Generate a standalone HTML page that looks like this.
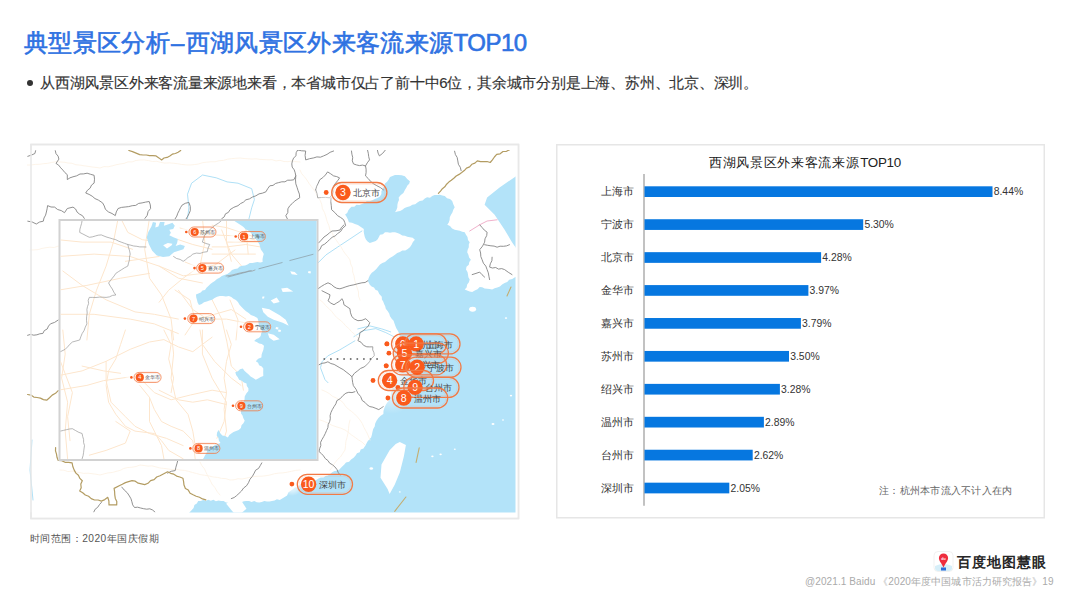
<!DOCTYPE html>
<html><head><meta charset="utf-8">
<style>
html,body{margin:0;padding:0;background:#fff;}
body{width:1080px;height:602px;position:relative;overflow:hidden;font-family:"Liberation Sans",sans-serif;}
.abs{position:absolute;white-space:nowrap;}
svg text{font-family:"Liberation Sans",sans-serif;}
#title{left:24px;top:26px;font-size:24px;letter-spacing:0.34px;color:#2f72e2;-webkit-text-stroke:0.6px #2f72e2;line-height:33px;}
#title .d{display:inline-block;width:15.7px;text-align:center;}
#title .l{letter-spacing:-0.5px;}
#bullet{left:40px;top:72.5px;font-size:15px;letter-spacing:-0.21px;-webkit-text-stroke:0.15px #333;color:#333;line-height:19px;}
#dot{left:27px;top:79.5px;width:6px;height:6px;border-radius:50%;background:#333;}
#foot1{left:30px;top:532px;font-size:10.2px;letter-spacing:0.45px;color:#555;line-height:14px;}
#foot2{left:805px;top:575px;font-size:10px;letter-spacing:0.1px;color:#aaa;line-height:14px;}
#logo{left:957px;top:552px;font-size:14.4px;letter-spacing:1px;color:#262626;font-weight:bold;line-height:20px;}
</style></head><body>
<div id="title" class="abs">典型景区分析<span class="d">–</span>西湖风景区外来客流来源<span class="l">TOP10</span></div>
<div id="dot" class="abs"></div>
<div id="bullet" class="abs">从西湖风景区外来客流量来源地来看，本省城市仅占了前十中6位，其余城市分别是上海、苏州、北京、深圳。</div>
<svg class="abs" style="left:0;top:0" width="1080" height="602" viewBox="0 0 1080 602">
<defs><clipPath id="cm"><rect x="27" y="150" width="488.5" height="362.5"/></clipPath><clipPath id="ci"><rect x="60.5" y="221" width="256" height="238"/></clipPath><radialGradient id="glow"><stop offset="0" stop-color="#fff" stop-opacity="0.9"/><stop offset="0.6" stop-color="#fff" stop-opacity="0.5"/><stop offset="1" stop-color="#fff" stop-opacity="0"/></radialGradient></defs>
<rect x="31" y="144.5" width="487.5" height="374" fill="#fff" stroke="#e8e8e8" stroke-width="1.5"/>
<g clip-path="url(#cm)">
<rect x="27" y="150" width="488.5" height="362.5" fill="#ffffff"/>
<path d="M395.0,175.0 L398.3,175.1 L401.7,175.2 L404.9,176.2 L407.2,178.9 L409.9,181.2 L409.2,183.7 L407.4,185.5 L406.3,187.8 L404.9,189.9 L403.4,192.9 L400.8,194.9 L398.7,197.4 L399.0,200.0 L397.9,202.4 L397.4,204.8 L397.3,207.5 L396.4,210.0 L395.0,212.3 L397.4,211.4 L400.1,211.1 L402.4,209.8 L404.6,208.0 L407.2,206.9 L410.0,206.2 L412.4,204.8 L415.2,204.2 L417.4,202.4 L419.8,200.9 L422.7,200.5 L424.8,198.6 L427.1,197.2 L430.0,197.7 L432.2,196.1 L434.6,195.1 L437.3,194.9 L439.9,194.7 L442.3,195.4 L444.8,196.1 L447.0,198.2 L450.0,199.0 L452.2,201.1 L453.3,204.2 L454.7,207.3 L453.3,209.7 L452.4,212.4 L451.0,214.8 L449.8,217.3 L449.6,220.0 L448.8,222.5 L447.3,224.8 L450.0,226.1 L452.1,228.4 L454.7,229.8 L457.2,230.3 L459.8,230.7 L462.2,231.7 L464.7,232.2 L466.0,234.7 L467.5,237.1 L468.0,239.9 L469.7,242.2 L468.8,244.6 L468.8,247.3 L467.7,249.7 L467.2,252.2 L468.4,254.7 L469.1,257.5 L470.9,259.7 L469.3,262.0 L468.8,264.8 L466.5,266.8 L466.0,269.6 L467.5,271.9 L468.0,274.6 L468.4,277.2 L469.7,279.6 L468.9,282.3 L467.2,284.6 L466.6,287.4 L464.7,289.5 L467.1,290.6 L469.6,291.6 L472.2,292.0 L474.8,290.5 L477.5,289.2 L479.7,287.1 L482.2,287.3 L484.6,288.4 L487.1,288.7 L489.6,289.1 L492.1,289.5 L494.6,288.2 L497.3,287.5 L499.9,286.5 L502.1,284.6 L504.6,283.1 L507.2,282.0 L509.2,279.7 L512.2,279.1 L514.6,277.6 L517.0,276.0 L516.2,278.5 L516.5,281.0 L517.3,283.5 L517.2,286.0 L516.7,288.5 L517.8,291.0 L517.1,293.5 L517.5,296.0 L517.6,298.5 L517.7,301.1 L516.6,303.6 L517.6,306.1 L517.4,308.6 L517.2,311.1 L516.4,313.6 L517.7,316.1 L517.1,318.6 L516.9,321.1 L516.4,323.6 L516.5,326.1 L516.4,328.6 L517.4,331.1 L517.1,333.6 L517.2,336.1 L516.4,338.6 L516.3,341.1 L517.6,343.6 L517.5,346.1 L517.4,348.7 L517.4,351.2 L517.0,353.7 L516.9,356.2 L517.4,358.7 L517.8,361.2 L517.1,363.7 L517.2,366.2 L516.9,368.7 L516.3,371.2 L516.7,373.7 L517.0,376.2 L516.8,378.7 L516.7,381.2 L517.7,383.7 L516.4,386.2 L516.6,388.7 L516.4,391.2 L516.5,393.7 L517.2,396.3 L517.2,398.8 L517.6,401.3 L516.8,403.8 L517.7,406.3 L517.7,408.8 L517.5,411.3 L517.5,413.8 L517.3,416.3 L517.7,418.8 L517.8,421.3 L517.6,423.8 L517.6,426.3 L517.2,428.8 L517.8,431.3 L516.4,433.8 L516.8,436.3 L517.6,438.8 L517.4,441.3 L517.2,443.9 L517.2,446.4 L517.6,448.9 L516.4,451.4 L516.2,453.9 L517.1,456.4 L517.0,458.9 L517.7,461.4 L517.6,463.9 L517.3,466.4 L517.4,468.9 L516.5,471.4 L517.5,473.9 L517.8,476.4 L516.3,478.9 L517.0,481.4 L517.6,483.9 L516.9,486.4 L517.8,488.9 L517.0,491.5 L516.2,494.0 L516.4,496.5 L516.7,499.0 L517.4,501.5 L517.2,504.0 L517.5,506.5 L516.6,509.0 L516.9,511.5 L517.0,514.0 L514.5,513.6 L512.0,514.3 L509.5,514.4 L507.0,513.5 L504.4,513.2 L501.9,513.4 L499.4,513.5 L496.9,513.5 L494.4,513.6 L491.9,514.4 L489.4,514.0 L486.9,514.2 L484.4,514.8 L481.8,514.8 L479.3,514.4 L476.8,514.4 L474.3,513.7 L471.8,513.3 L469.3,514.1 L466.8,513.3 L464.3,513.2 L461.7,513.3 L459.2,514.2 L456.7,514.4 L454.2,514.4 L451.7,514.5 L449.2,514.5 L446.7,513.8 L444.2,513.4 L441.7,513.5 L439.1,514.0 L436.6,513.8 L434.1,513.5 L431.6,514.7 L429.1,513.7 L426.6,513.3 L424.1,513.5 L421.6,513.6 L419.1,514.0 L416.5,514.5 L414.0,513.5 L411.5,514.3 L409.0,513.5 L406.5,513.2 L404.0,514.2 L401.5,514.2 L399.0,513.3 L396.5,513.6 L393.9,514.5 L391.4,514.6 L388.9,514.6 L386.4,513.4 L383.9,513.5 L381.4,514.6 L378.9,513.5 L376.4,513.2 L373.8,513.7 L371.3,514.2 L368.8,513.9 L366.3,514.6 L363.8,514.8 L361.3,513.2 L358.8,513.8 L356.3,514.0 L353.8,513.3 L351.2,514.1 L348.7,513.4 L346.2,513.5 L343.7,514.5 L341.2,514.4 L338.7,514.3 L336.2,514.4 L333.7,513.9 L331.2,514.4 L328.6,514.1 L326.1,514.6 L323.6,513.3 L321.1,514.2 L318.6,514.1 L316.1,513.9 L313.6,513.4 L311.1,514.1 L308.5,513.3 L306.0,514.0 L303.5,513.9 L301.0,514.0 L298.5,514.8 L296.0,514.1 L293.5,514.5 L291.0,514.8 L288.5,513.5 L285.9,514.5 L283.4,514.0 L280.9,513.6 L278.4,513.9 L275.9,514.3 L273.4,514.0 L270.9,513.9 L268.4,513.5 L265.9,514.6 L263.3,513.9 L260.8,514.4 L258.3,514.4 L255.8,513.6 L253.3,514.0 L250.8,513.9 L248.3,513.6 L245.8,513.3 L243.3,514.1 L240.7,513.8 L238.2,514.0 L235.7,514.0 L233.2,513.7 L230.7,514.1 L228.2,513.9 L225.7,514.0 L223.2,513.3 L220.6,513.7 L218.1,513.4 L215.6,513.3 L213.1,514.4 L210.6,513.9 L208.1,513.3 L205.6,513.5 L203.1,514.6 L200.6,514.6 L198.0,514.1 L195.5,514.7 L193.0,514.4 L190.5,514.7 L188.0,514.0 L189.9,512.0 L191.8,510.0 L193.6,507.9 L194.4,505.1 L196.8,503.5 L198.2,501.1 L200.8,501.0 L203.2,499.9 L205.9,500.7 L208.3,499.8 L210.8,500.8 L213.4,499.8 L215.9,501.2 L218.5,500.5 L221.1,500.9 L223.6,501.1 L226.0,502.4 L228.6,502.7 L231.4,502.1 L233.9,503.1 L236.4,503.7 L238.9,503.1 L241.4,502.2 L243.9,501.3 L246.5,501.1 L249.1,501.1 L251.6,502.0 L254.3,501.1 L256.7,502.2 L259.3,502.4 L261.8,502.0 L264.3,501.1 L266.9,501.4 L269.5,501.6 L272.0,501.1 L274.6,500.5 L276.9,499.2 L279.8,500.0 L282.2,498.6 L284.7,497.0 L287.1,495.4 L288.3,492.4 L290.7,490.7 L293.1,489.1 L295.1,487.3 L297.9,487.2 L299.9,485.3 L302.1,483.9 L304.7,483.3 L307.6,482.3 L310.7,482.2 L313.5,481.2 L316.3,479.9 L318.5,478.6 L320.7,477.4 L323.5,477.6 L325.6,476.1 L328.0,475.4 L330.2,474.1 L332.2,472.3 L334.5,471.1 L337.2,470.8 L339.4,469.4 L341.7,467.0 L344.1,464.8 L346.0,462.4 L349.1,461.7 L351.1,459.4 L353.6,457.8 L355.6,455.6 L357.0,453.3 L359.7,452.3 L360.7,449.5 L363.5,448.6 L364.9,446.3 L366.2,443.9 L367.5,441.5 L369.2,439.4 L371.1,437.4 L371.9,434.7 L372.5,431.8 L373.2,429.0 L374.7,426.4 L375.2,423.4 L376.5,420.8 L378.4,418.1 L380.7,415.8 L383.4,413.9 L383.5,410.8 L384.5,407.8 L385.7,405.0 L387.1,402.7 L388.9,400.8 L389.4,398.1 L390.8,395.8 L390.9,393.0 L391.9,390.5 L392.7,387.9 L392.9,385.2 L393.8,382.7 L393.9,380.0 L395.3,377.6 L395.6,374.9 L395.8,372.3 L397.6,370.0 L397.9,367.3 L397.1,364.7 L395.7,362.3 L395.3,359.6 L394.4,357.0 L394.2,354.2 L392.7,351.8 L393.4,348.9 L395.8,346.9 L396.5,344.0 L397.9,341.5 L398.8,339.0 L399.7,336.6 L399.2,333.4 L397.7,330.6 L396.3,328.3 L395.3,325.8 L394.4,323.3 L393.6,320.7 L391.7,318.7 L390.0,316.3 L389.2,313.4 L387.6,311.0 L385.8,308.7 L385.2,306.3 L384.1,304.0 L383.2,301.6 L381.9,299.4 L381.8,296.8 L379.3,294.1 L377.8,290.8 L375.4,289.8 L374.0,287.5 L371.6,286.6 L369.8,284.8 L367.8,280.8 L368.7,277.9 L369.9,275.2 L371.8,272.8 L374.2,271.1 L376.3,269.1 L378.1,266.8 L380.0,264.6 L382.3,263.0 L385.0,262.1 L387.3,259.9 L389.8,258.1 L392.5,256.5 L395.0,254.7 L397.2,253.0 L399.9,252.1 L402.3,250.6 L405.3,250.4 L407.8,249.1 L409.9,247.2 L411.6,244.7 L412.9,242.0 L414.9,239.7 L412.7,237.8 L409.9,237.2 L407.3,236.7 L404.9,235.8 L402.2,235.5 L399.9,234.0 L397.5,233.1 L395.0,232.2 L392.5,232.2 L390.0,232.7 L387.5,232.2 L385.0,232.2 L382.9,234.2 L380.0,234.7 L378.9,237.0 L377.7,239.3 L375.8,241.0 L372.8,242.1 L369.8,242.9 L367.6,241.4 L365.9,239.5 L364.8,237.0 L364.2,234.4 L363.7,231.7 L363.8,229.0 L360.9,226.9 L357.9,225.0 L354.9,224.1 L352.0,222.8 L348.9,222.3 L347.9,219.6 L346.7,217.0 L345.1,214.6 L347.2,213.0 L348.2,210.6 L349.7,208.6 L351.5,206.8 L354.3,206.8 L356.5,204.7 L359.3,204.9 L361.9,204.0 L364.4,203.0 L366.7,201.2 L369.8,201.3 L372.4,200.3 L374.8,198.9 L377.5,197.9 L379.9,196.5 L381.4,194.1 L381.4,191.1 L383.0,188.8 L384.0,186.2 L385.0,183.6 L387.1,181.7 L388.7,179.5 L390.0,177.0 Z" fill="#b3e3f9"/>
<path d="M516.0,176.2 L499.6,187.4 L487.1,197.4 L484.6,204.8 L494.6,214.8 L504.6,229.8 L512.0,242.2 L516.0,248.0 Z" fill="#b3e3f9"/>
<path d="M399.8,442.0 L405.9,445.1 L403.9,456.3 L399.8,472.6 L394.7,484.8 L389.6,494.0 L387.6,488.9 L380.5,477.7 L381.5,464.4 L389.6,450.2 L395.7,444.1 Z" fill="#fff"/>
<path d="M226.2,503.7 L231.3,499.8 L241.5,501.1 L246.5,508.8 L241.5,513.0 L233.8,513.0 Z" fill="#fff"/>
<path d="M187.5,218.7 L188.9,207.8 L187.5,194.2 L191.6,183.2 L202.5,175.0 L216.2,177.8 L227.1,181.9 L238.0,183.2 L251.7,188.7 L254.4,199.6 L251.7,207.8 L249.0,218.7 M318.0,262.9 L326.0,254.9 L337.9,246.9 L349.9,239.0 L361.9,231.0 M357.8,328.9 L369.8,325.9 L381.8,328.9 L390.7,331.9 M353.9,336.6 L363.8,330.6 L375.8,328.6 L385.8,332.6 L393.7,336.6 M354.9,340.8 L339.9,349.8 L327.9,355.8 L322.0,361.8 L320.5,367.8 L325.0,379.7 L328.0,382.7 M32.0,440.0 L30.0,470.0 L33.0,500.0" fill="none" stroke="#a6dcf5" stroke-width="0.9" stroke-linejoin="round" stroke-linecap="round" />
<path d="M27.0,165.0 L31.2,165.0 L35.3,164.4 L39.4,164.3 L43.5,163.7 L47.6,163.4 L51.7,162.4 L55.8,161.8 L60.0,162.0 L64.1,162.2 L68.0,163.0 L72.1,163.3 L75.9,164.8 L80.0,165.1 L84.0,165.8 L88.0,166.3 L92.0,167.0 L96.0,167.4 L100.0,168.0 L103.9,166.6 L108.1,166.8 L112.1,165.9 L116.0,164.8 L120.0,164.0 L124.0,163.4 L127.9,161.9 L132.1,161.9 L135.9,160.5 L140.0,160.0 L144.2,159.9 L148.4,160.6 L152.5,161.5 L156.7,161.3 L160.8,162.4 L164.9,163.1 L169.2,162.9 L173.3,163.2 L177.5,163.7 L181.6,164.4 L185.8,164.9 L190.0,165.0 L194.2,164.6 L198.4,164.0 L202.4,162.7 L206.6,162.2 L210.8,161.8 L215.0,161.8 L219.1,160.7 L223.3,160.4 L227.4,159.2 L231.6,158.6 L235.8,158.3 L240.0,158.0 L244.0,158.5 L248.0,158.8 L252.0,159.0 L256.0,158.8 L260.0,159.4 L264.0,159.6 L268.0,159.8 L272.0,159.7 L276.0,160.9 L280.0,160.3 L284.0,161.5 L288.0,161.7 L292.0,160.9 L296.0,161.7 L300.0,162.0 M30.0,250.0 L34.0,249.9 L38.1,249.6 L42.0,248.4 L46.0,247.7 L50.0,247.2 L54.1,247.5 L58.0,246.2 L62.0,246.1 L65.9,245.1 L70.0,245.0 L74.0,244.5 L78.1,244.5 L81.9,243.1 L86.0,243.4 L90.0,242.5 L94.1,242.5 L98.0,241.7 L102.0,240.7 L106.1,241.0 L110.0,240.0 L114.0,239.5 L117.9,238.4 L121.9,237.9 L126.0,238.0 L130.0,237.4 L134.0,236.8 L137.9,236.1 L142.0,235.8 L146.0,235.3 L150.0,235.0 L154.2,235.0 L158.3,233.6 L162.5,234.0 L166.7,233.7 L170.8,232.5 L175.1,233.0 L179.2,232.3 L183.4,232.1 L187.5,231.0 L191.7,230.7 L195.8,230.3 L200.0,230.0 M300.0,170.0 L301.7,173.7 L304.4,176.7 L306.8,179.9 L309.0,183.3 L311.3,186.5 L313.8,189.7 L316.0,193.1 L317.4,196.9 L320.0,200.0 L321.7,204.2 L322.4,208.7 L324.6,212.8 L326.0,217.1 L327.1,221.4 L328.9,225.6 L330.0,230.0 L332.3,233.2 L334.0,237.0 L336.3,240.3 L338.6,243.5 L341.0,246.8 L342.9,250.3 L345.1,253.6 L347.7,256.7 L350.0,260.0 L350.7,264.1 L352.5,267.9 L352.7,272.1 L354.1,276.0 L354.7,280.1 L355.8,284.0 L357.2,287.9 L358.5,291.9 L358.5,296.1 L360.0,300.0 M320.0,300.0 L323.2,302.5 L325.7,305.7 L328.7,308.4 L331.6,311.3 L334.1,314.5 L336.7,317.5 L340.0,320.0 L343.1,322.7 L345.6,325.8 L348.7,328.4 L351.4,331.5 L354.4,334.2 L357.4,336.9 L360.0,340.0 M322.0,390.0 L325.8,391.6 L329.4,393.7 L332.6,396.4 L336.4,398.0 L340.0,400.0 L343.1,402.6 L345.4,406.1 L348.2,409.0 L351.5,411.4 L354.6,414.0 L357.4,416.9 L360.0,420.0 L362.4,423.8 L364.2,427.9 L366.4,431.8 L368.3,435.9 L370.0,440.0 M320.0,420.0 L324.3,421.4 L328.3,423.4 L332.3,425.4 L336.6,426.9 L340.9,428.2 L345.0,430.0 L348.4,432.4 L351.6,435.0 L355.1,437.4 L358.4,439.8 L362.0,442.1 L365.0,445.0 M60.0,470.0 L64.0,470.2 L67.9,471.6 L72.1,471.1 L76.0,472.0 L80.0,472.7 L83.9,473.4 L88.0,473.2 L92.0,473.7 L96.0,474.2 L100.0,475.0 L104.0,473.9 L108.0,472.9 L112.1,472.5 L116.1,471.4 L120.1,470.4 L123.9,468.4 L127.9,467.5 L132.1,467.2 L136.1,466.5 L140.0,465.0 L144.0,465.5 L148.0,466.1 L152.1,465.9 L156.0,466.9 L159.9,468.0 L164.0,468.4 L167.9,468.9 L171.9,469.6 L176.0,469.2 L180.0,470.0 L184.3,470.4 L188.4,471.3 L192.5,472.5 L196.6,473.5 L200.7,474.7 L204.9,475.3 L209.1,476.0 L213.3,477.0 L217.5,477.4 L221.7,478.4 L225.9,478.6 L230.0,480.0 L234.0,479.8 L238.0,478.7 L242.1,479.0 L246.0,478.2 L250.0,477.3 L253.9,476.6 L258.0,476.2 L262.0,476.2 L266.0,475.7 L270.0,475.0 L274.2,473.8 L278.5,473.1 L282.9,472.9 L287.2,472.2 L291.4,471.3 L295.7,470.4 L300.0,470.0 M200.0,462.0 L201.9,465.7 L204.5,468.9 L206.2,472.7 L208.0,476.4 L210.0,480.0 L212.0,484.1 L214.9,487.6 L217.1,491.5 L220.0,495.0 M330.0,470.0 L332.5,466.6 L334.7,463.1 L337.3,459.8 L340.4,457.0 L342.7,453.5 L345.0,450.0 L345.5,445.7 L345.9,441.3 L347.1,437.1 L348.1,432.9 L348.5,428.6 L349.0,424.2 L350.0,420.0" fill="none" stroke="#fdf3e6" stroke-width="0.9" stroke-linejoin="round" stroke-linecap="round" />
<path d="M27.8,156.3 L31.4,155.1 L34.9,153.5 L35.6,150.7 M55.3,150.7 L56.0,153.7 L58.1,156.1 L58.9,159.1 L56.0,163.4 L58.7,165.2 L60.7,167.8 L62.9,170.1 L64.9,172.6 L67.3,174.7 L67.3,179.6 L70.0,177.8 L73.0,176.8 L76.7,175.8 L80.0,174.0 L83.6,173.9 L87.1,173.2 L90.6,174.3 L94.1,175.3 L94.5,179.2 L94.1,183.1 L91.5,185.1 L90.1,188.2 L87.5,190.2 L85.7,193.0 L89.1,194.4 L92.2,196.2 L95.0,198.6 L98.4,200.1 L102.6,202.9 L104.3,206.0 L105.4,209.3 L108.4,211.9 L112.0,213.5 L115.3,215.6 L116.3,211.9 L118.1,208.5 L121.5,207.4 L125.1,207.0 L128.7,206.6 L132.2,205.7 L135.7,205.4 L138.7,203.4 L142.1,202.9 L145.6,202.1 L149.2,201.5 L150.3,204.9 L150.6,208.5 L148.1,211.5 L147.2,215.4 L144.9,218.4 M27.8,221.2 L32.2,222.0 L36.3,224.0 L39.6,222.0 L43.3,221.2 L44.0,218.0 L45.6,215.1 L46.4,212.0 L47.1,208.8 L47.6,205.6 L51.0,207.0 L54.6,207.1 L57.6,209.5 L61.3,210.6 L64.5,212.7 L67.3,208.5 L73.0,207.1 L75.6,209.0 L77.1,212.1 L79.5,214.1 L82.5,215.7 L84.3,218.4 M175.2,218.7 L176.8,216.1 L177.8,213.2 L179.2,210.5 L180.5,207.7 L182.1,205.1 L185.3,203.3 L188.9,202.4 L190.3,206.4 L190.3,210.6 L189.2,213.4 L187.8,216.1 L186.2,218.7 M221.7,218.7 L224.2,216.9 L225.5,213.8 L228.4,212.4 L230.0,209.7 L233.8,207.3 L238.0,205.7 L240.5,203.6 L243.5,202.1 L245.9,199.8 L249.4,198.9 L252.5,197.0 L255.9,195.8 L259.0,193.9 L262.6,193.1 L265.9,191.8 L267.7,188.7 L269.8,185.8 L273.0,185.4 L275.7,183.4 L278.7,182.6 L281.8,181.8 L284.9,181.8 L287.7,180.2 L290.8,180.2 L293.8,179.8 L295.8,175.9 L295.2,172.8 L294.2,169.8 L292.2,167.1 L291.8,163.9 L292.4,160.9 L293.6,158.1 L295.9,155.8 L296.2,152.6 L297.7,150.0 L301.7,150.8 L305.7,151.0 L305.1,155.4 L305.7,159.9 L309.6,158.7 L313.7,157.9 L316.9,156.9 L320.4,157.2 L323.6,155.9 L327.0,154.4 L330.1,152.3 L333.6,151.0 M295.8,175.9 L295.5,179.9 L295.8,183.8 L297.0,187.2 L298.1,190.7 L299.4,194.1 L299.7,197.8 L297.0,199.5 L294.4,201.3 L292.2,203.6 L289.8,205.7 L287.9,208.8 L287.8,212.6 L285.8,215.7 L287.8,219.7 M315.7,189.8 L316.7,186.3 L318.3,183.1 L319.7,179.8 L322.8,177.6 L325.4,175.0 L327.6,171.9 L330.7,173.8 L333.6,175.9 L336.7,176.6 L339.6,177.9 L337.7,180.6 L335.6,183.2 L333.6,185.8 L332.7,188.8 L333.0,192.0 L331.7,195.1 L329.6,197.8 L325.6,197.4 L321.7,197.5 L317.7,197.8 L317.1,193.7 L315.7,189.8 M331.0,197.8 L330.8,201.8 L331.3,205.7 L331.6,209.7 L334.8,212.5 L337.6,215.7 L340.7,217.5 L343.6,219.7 L344.8,222.6 L345.6,225.7 L342.7,228.1 L340.7,231.4 L337.6,233.6 L335.2,235.9 L332.1,237.3 L329.6,239.6 L327.2,241.9 L324.7,244.1 L321.7,245.6 L320.2,249.0 L317.7,251.6 M351.5,151.0 L351.9,154.2 L352.7,157.4 L352.3,160.8 L353.5,163.9 L356.4,164.9 L359.4,165.6 L362.6,165.1 L365.5,165.9 L366.1,169.2 L366.1,172.6 L365.5,175.9 L368.2,178.5 L370.6,181.4 L373.5,183.8 L376.8,185.7 L380.3,187.5 L383.4,189.8 M367.5,150.0 L368.3,153.3 L368.7,156.6 L369.5,159.9 L367.3,162.8 L365.5,165.9 M377.4,150.0 L378.1,153.1 L379.4,155.9 L382.7,153.3 L385.4,150.0 M454.6,151.2 L455.4,154.5 L457.2,157.5 L457.8,160.9 L458.4,164.3 L460.3,167.3 L461.1,170.6 M318.5,243.0 L321.3,240.1 L324.0,237.0 L327.0,235.0 L329.4,232.9 L332.0,231.0 L336.0,230.8 L340.0,230.0 L341.6,227.2 L343.9,225.0 M318.0,288.8 L321.2,286.5 L324.5,284.5 L328.0,282.8 L331.3,284.4 L334.0,286.8 L336.8,288.3 L339.9,288.8 L342.9,287.9 L345.9,286.8 L349.8,285.6 L353.9,284.8 L357.9,283.7 L361.9,282.8 L365.1,282.5 L367.8,280.8 M322.0,290.8 L326.0,292.8 L330.0,294.8 L329.4,297.9 L328.0,300.7 L330.8,303.1 L334.0,304.7 L336.8,302.9 L339.7,301.2 L341.9,298.7 L343.4,301.5 L343.9,304.7 L346.9,306.7 L349.9,308.7 L350.5,312.8 L351.9,316.7 L354.6,319.1 L357.9,320.7 L362.0,320.3 L365.8,318.7 L369.8,322.7 L368.3,326.0 L365.8,328.6 L363.0,330.8 L359.9,332.6 L359.4,336.7 L357.9,340.6 L361.1,342.3 L363.5,345.3 L366.8,346.8 L369.8,346.9 L372.8,346.8 L372.7,349.9 L374.0,352.8 L374.3,355.8 L371.4,358.5 L369.4,361.8 L366.8,364.8 L364.0,367.0 L360.6,368.4 L357.8,370.7 L354.4,373.3 L351.9,376.7 M319.0,364.8 L321.8,363.3 L325.0,362.9 L327.9,361.8 L330.8,363.5 L334.1,364.4 L337.0,366.1 L339.9,367.8 L343.2,369.6 L346.1,371.9 L349.1,374.2 L351.9,376.7 L352.3,379.7 L352.7,382.7 L353.4,385.7 L356.0,389.2 L357.8,393.2 L360.6,396.5 L362.3,400.6 L365.0,402.4 L367.1,404.8 L369.8,406.6 L372.9,407.2 L375.9,408.4 L378.8,409.6 L383.3,406.6 M354.9,391.7 L352.0,392.6 L348.8,392.3 L345.9,393.2 L342.9,395.6 L340.3,398.6 L336.9,400.6 L335.9,403.8 L334.0,406.7 L332.3,409.6 L330.9,412.6 L330.1,415.6 L330.3,418.7 L329.6,421.7 L328.2,424.5 L327.9,427.6 L326.5,430.6 L325.2,433.7 L323.7,436.6 L322.0,439.5 L320.6,442.3 L320.8,445.6 L319.7,448.5 L319.0,451.5 L321.4,453.6 L323.5,455.9 L325.3,458.6 L327.9,460.5 L329.7,463.2 L332.5,464.8 L334.9,466.9 L336.9,469.4 L338.2,472.4 L340.0,475.0 M261.8,462.9 L260.2,465.7 L258.6,468.4 L255.6,470.2 L254.2,473.1 L252.4,476.3 L250.0,479.2 L248.5,482.7 L246.5,485.8 L243.6,488.0 L241.5,491.0 L238.9,493.5 L236.6,495.6 L234.2,497.5 L231.3,498.6 M177.8,460.4 L176.9,463.8 L175.9,467.2 L175.2,470.6 L171.2,471.3 L167.6,473.1 M93.8,512.0 L95.2,509.2 L97.7,507.3 L99.4,504.7 L101.4,502.4 M121.8,487.1 L124.3,490.1 L127.2,492.7 L129.4,496.0 L131.0,498.8 L131.9,501.8 L132.7,504.9 L134.5,507.5 L137.6,507.2 L140.6,508.0 L143.6,508.7 L146.7,509.2 L149.8,508.8 L152.6,510.0 L154.9,512.0 M27.6,335.3 L30.6,334.4 L33.8,335.2 L36.9,334.8 L39.8,333.8 L42.9,333.4 L44.3,330.6 L47.2,329.0 L48.5,326.1 L50.5,323.8 L54.6,322.4 L58.2,320.0 M479.7,224.8 L482.0,227.4 L484.3,230.1 L487.1,232.2 L486.7,235.6 L485.0,238.8 L484.6,242.2 L482.5,246.2 L479.7,249.7 L480.6,253.0 L480.8,256.5 L482.1,259.7 L483.4,263.2 L485.8,266.1 L487.1,269.6 L488.3,272.8 L488.9,276.2 L489.6,279.6 M484.6,244.7 L487.7,245.3 L490.9,245.8 L494.1,246.1 L497.1,247.2 L500.1,246.2 L503.4,246.3 L506.5,245.9 L509.5,244.7 M492.1,257.2 L491.9,260.7 L490.3,263.8 L489.6,267.1 L492.5,268.0 L495.7,267.5 L498.5,269.1 L501.7,268.6 L504.6,269.6 L508.2,272.2 L512.0,274.6 M472.2,274.6 L476.0,273.4 L479.7,272.1 L482.0,274.7 L484.6,277.1" fill="none" stroke="#858585" stroke-width="0.9" stroke-linejoin="round" stroke-linecap="round" />
<path d="M128.8,150.5 L132.5,151.6 L136.1,153.1 L139.7,154.6 L143.0,155.0 L146.3,155.0 L149.5,155.6 L152.8,155.6 L156.1,155.9 L158.9,157.9 L161.6,160.0 L164.0,158.0 L167.1,157.4 L169.8,155.9 L172.3,154.2 L175.4,153.5 L178.1,152.2 L180.7,150.5 M438.4,193.3 L440.5,191.1 L442.4,188.7 L444.8,186.8 L446.6,184.2 L448.8,182.1 L451.3,180.3 L453.8,178.3 L456.2,176.0 L459.1,174.4 L461.7,172.6 L464.3,170.6 L466.5,168.1 L469.6,166.9 L471.8,164.3 L474.9,163.1 L477.3,160.9 L480.5,161.7 L483.7,161.7 L487.1,161.5 L490.2,162.5 L492.4,159.8 L494.4,157.0 L496.7,154.4 L500.1,153.8 L503.0,151.5 L506.5,151.3 L509.6,149.6 M55.6,447.6 L55.5,450.9 L56.5,454.1 L57.0,457.3 L58.1,460.4 L61.7,460.6 L65.0,462.3 L68.6,462.3 L72.1,462.9 L72.8,466.5 L74.1,469.9 L75.9,473.1 L78.4,475.3 L79.9,478.4 L82.3,480.7 L80.8,484.0 L81.2,487.7 L79.7,490.9 L82.7,492.7 L85.3,495.0 L88.6,496.3 L91.2,498.6 L94.5,500.0 L98.1,500.0 L101.4,501.1 L104.8,499.6 L107.8,497.3 L108.9,501.0 L109.0,504.9 L112.8,504.9 L116.7,504.9 L116.8,501.5 L115.3,498.4 L114.8,495.1 L114.6,491.7 L114.1,488.4 L119.2,485.8 L122.3,484.3 L125.4,482.6 L128.6,481.6 L132.0,480.7 L135.3,481.2 L138.2,483.2 L141.5,483.9 L144.7,484.6 L148.0,483.3 L150.6,480.6 L154.1,479.6 L156.7,477.0 L160.0,475.7 L163.8,473.8 L167.6,471.8 L170.6,473.3 L173.8,474.2 L176.6,476.1 L179.8,477.0 L182.9,478.2 L183.6,481.6 L184.0,485.1 L185.4,488.4 L188.3,490.1 L190.1,493.2 L193.1,494.8 L196.2,496.2 L199.5,497.2 L202.5,498.9 L205.8,499.8 M27.6,394.5 L30.9,395.1 L33.8,397.1 L37.1,397.5 L40.4,398.1 L43.4,399.6 L46.7,400.2 L49.5,397.7 L52.2,395.1 L55.5,393.3 L58.2,390.6" fill="none" stroke="#b39c62" stroke-width="1.2" stroke-linejoin="round" stroke-linecap="round" />
<path d="M419.2,447.9 L416.1,462.4 M405.9,497.0 L394.7,511.3 M511.0,287.0 L507.0,296.0" fill="none" stroke="#c4ad70" stroke-width="1.1" stroke-linejoin="round" stroke-linecap="round" />
<ellipse cx="371.3" cy="468.5" rx="1.8" ry="1.26" fill="#fff"/><ellipse cx="432.4" cy="456.3" rx="1.2" ry="0.84" fill="#fff"/><ellipse cx="440.6" cy="454.3" rx="1.2" ry="0.84" fill="#fff"/><ellipse cx="454.8" cy="449.2" rx="1.0" ry="0.70" fill="#fff"/><ellipse cx="399.8" cy="491.9" rx="1.0" ry="0.70" fill="#fff"/><ellipse cx="472.6" cy="309.3" rx="3.5" ry="2.45" fill="#fff"/><ellipse cx="506" cy="318" rx="1.2" ry="0.84" fill="#fff"/><ellipse cx="511" cy="395.6" rx="1.2" ry="0.84" fill="#fff"/><ellipse cx="493" cy="424" rx="1.5" ry="1.05" fill="#fff"/><ellipse cx="503" cy="420" rx="1.0" ry="0.70" fill="#fff"/>
<path d="M469.7,231.0 L479.7,224.8 L487.1,221.0 L497.1,219.8" fill="none" stroke="#e98fb5" stroke-width="0.7" stroke-linejoin="round" stroke-linecap="round" />
<ellipse cx="392" cy="372" rx="30" ry="42" fill="url(#glow)"/>
<ellipse cx="326" cy="192" rx="12" ry="12" fill="url(#glow)"/>
<ellipse cx="292" cy="484" rx="12" ry="12" fill="url(#glow)"/>
</g>
<rect x="31" y="144.5" width="487.5" height="374" fill="none" stroke="#e8e8e8" stroke-width="1.5"/>
<line x1="323.5" y1="359" x2="381" y2="359" stroke="#555" stroke-width="1.6" stroke-dasharray="1.6,5"/>
<rect x="59.5" y="220" width="258" height="240" fill="#fff" stroke="#d2d2d2" stroke-width="2"/>
<g clip-path="url(#ci)">
<path d="M58.0,375.7 L82.1,370.9 L106.1,361.3 L130.2,349.3 L149.5,342.0 L163.9,339.6 L178.4,346.9 L192.8,351.7 L202.4,344.4 L212.1,337.2 M58.0,390.2 L86.9,385.4 L103.7,380.6 L130.2,376.9 M106.1,361.3 L106.1,380.6 L111.0,402.2 L125.4,416.7 L135.0,426.3 L149.5,433.5 L166.3,438.3 L183.2,445.6 M139.8,378.1 L154.3,392.6 L171.1,399.8 L190.4,395.0 L212.1,390.2 L226.5,392.6 M171.1,330.0 L173.6,354.1 L171.1,378.1 L176.0,399.8 L188.0,414.3 L192.8,431.1 L195.2,445.6 M202.4,330.0 L202.4,354.1 L212.1,378.1 L226.5,402.2 L224.1,421.5 L216.9,438.3 M226.5,339.6 L231.3,366.1 L241.0,375.7 L243.4,390.2 M149.5,397.4 L149.5,421.5 L154.3,431.1 L161.5,445.6 L163.9,458.8 M115.8,421.5 L130.2,431.1 L125.4,443.1 L106.1,450.4 L89.3,455.2 M60.4,361.3 L72.4,392.6 L67.6,416.7 L70.0,440.7 M58.0,256.5 L94.1,254.1 L130.2,256.5 L159.1,266.1 L178.4,278.2 L202.4,283.0 M58.0,239.7 L82.1,242.1 L111.0,242.1 L132.6,249.3 M62.8,271.0 L82.1,285.4 L106.1,299.8 L135.0,311.9 L154.3,314.3 L178.4,319.1 M118.2,218.0 L113.4,242.1 L106.1,266.1 L96.5,290.2 L89.3,314.3 L86.9,340.0 M149.5,218.0 L144.7,249.3 L149.5,278.2 L161.5,295.0 L171.1,319.1 L173.6,340.0 M202.4,218.0 L204.8,242.1 L200.0,266.1 L183.2,278.2 L168.7,290.2 L159.1,302.3 M221.7,230.0 L231.3,254.1 L245.8,271.0 L255.4,278.2 M226.5,242.1 L262.6,242.1 M212.1,254.1 L255.4,254.1 M125.4,261.3 L159.1,256.5 M190.4,321.5 L214.5,314.3 L231.3,309.5 L245.8,319.1 M212.1,299.8 L221.7,319.1 L226.5,340.0 M180.0,228.0 L195.0,232.0 L215.0,235.0 L240.0,236.0 L255.0,240.0 M185.0,262.0 L200.0,268.0 L215.0,265.0 L235.0,250.0 M175.0,290.0 L190.0,300.0 L195.0,320.0 L185.0,335.0 M230.0,300.0 L238.0,320.0 L236.0,340.0 M62.8,330.0 L65.2,354.1 L61.6,378.1 L67.6,402.2 L65.2,431.1 L67.6,458.8 M125.4,330.0 L120.6,344.4 L115.8,358.9 L108.6,370.9 L106.1,385.4 L108.6,402.2 L115.8,414.3 L125.4,426.3 L135.0,431.1 L154.3,433.5 L161.5,440.7 L168.7,450.4 L183.2,458.8 M163.9,330.0 L171.1,344.4 L168.7,358.9 L173.6,378.1 L171.1,392.6 M200.0,330.0 L202.4,344.4 L214.5,361.3 L221.7,368.5 L231.3,378.1 L241.0,385.4 M159.1,390.2 L178.4,399.8 L192.8,402.2 L207.3,399.8 L226.5,404.6 M139.8,385.4 L149.5,397.4 L154.3,409.4 L161.5,421.5 L171.1,426.3 L183.2,431.1 L192.8,440.7 L195.2,458.8 M82.1,366.1 L103.7,370.9 L120.6,373.3 M226.5,330.0 L231.3,344.4 L226.5,361.3 L224.1,378.1 L226.5,392.6 L224.1,409.4 L226.5,431.1 L221.7,445.6 M212.1,225.2 L226.5,227.6 L241.0,232.4 L255.4,237.3 M212.1,246.9 L226.5,246.9 L245.8,244.5 L260.2,246.9 M226.5,218.0 L226.5,242.1 L231.3,261.3 M245.8,227.6 L248.2,254.1 M178.4,239.7 L192.8,244.5 L212.1,249.3 M159.1,266.1 L183.2,275.8 L202.4,273.4 M58.0,290.2 L86.9,285.4 L120.6,278.2 L149.5,273.4 M58.0,314.3 L94.1,314.3 L130.2,319.1 L154.3,323.9 L178.4,333.6 M178.4,290.2 L192.8,309.5 L207.3,319.1 L226.5,319.1 L250.6,323.9 M120.6,218.0 L127.8,232.4 L142.3,239.7 L159.1,242.1" fill="none" stroke="#fde6cd" stroke-width="1.0" stroke-linejoin="round" stroke-linecap="round" />
<path d="M231.3,219.0 L233.9,218.4 L236.4,219.4 L239.0,218.7 L241.6,219.2 L244.1,219.7 L246.7,219.1 L249.3,219.2 L251.8,218.7 L254.4,218.3 L256.9,218.3 L259.5,218.5 L262.1,219.2 L264.6,218.9 L267.2,219.0 L269.8,219.6 L272.3,218.5 L274.9,218.6 L277.5,219.2 L280.0,218.3 L282.6,218.3 L285.2,218.8 L287.7,218.4 L290.3,218.8 L292.9,218.6 L295.4,219.1 L298.0,219.1 L300.5,218.6 L303.1,219.2 L305.7,219.0 L308.2,218.5 L310.8,219.6 L313.4,218.6 L315.9,218.5 L318.5,219.0 L319.1,221.5 L318.3,224.0 L318.0,226.5 L318.1,229.1 L318.6,231.6 L318.8,234.1 L319.2,236.6 L318.3,239.1 L318.4,241.6 L318.7,244.2 L318.3,246.7 L318.6,249.2 L317.9,251.7 L318.2,254.2 L318.9,256.7 L317.9,259.2 L319.1,261.8 L318.5,264.3 L318.6,266.8 L318.9,269.3 L319.1,271.8 L318.1,274.3 L319.2,276.9 L318.4,279.4 L317.9,281.9 L319.0,284.4 L318.9,286.9 L318.3,289.4 L318.5,292.0 L318.3,294.5 L318.1,297.0 L319.0,299.5 L318.8,302.0 L318.8,304.5 L319.1,307.0 L318.0,309.6 L318.1,312.1 L318.2,314.6 L319.2,317.1 L318.0,319.6 L318.2,322.1 L318.5,324.7 L318.2,327.2 L318.6,329.7 L318.9,332.2 L319.1,334.7 L318.9,337.2 L319.1,339.8 L318.7,342.3 L318.2,344.8 L318.2,347.3 L318.0,349.8 L318.2,352.3 L318.8,354.8 L318.4,357.4 L318.6,359.9 L318.1,362.4 L318.5,364.9 L318.8,367.4 L318.3,369.9 L317.8,372.5 L318.9,375.0 L318.0,377.5 L319.2,380.0 L318.8,382.5 L318.9,385.0 L318.2,387.5 L317.9,390.1 L318.2,392.6 L318.7,395.1 L318.0,397.6 L318.7,400.1 L318.9,402.6 L317.9,405.2 L318.3,407.7 L318.2,410.2 L318.3,412.7 L317.8,415.2 L318.5,417.7 L318.0,420.2 L318.2,422.8 L318.0,425.3 L318.6,427.8 L318.2,430.3 L318.4,432.8 L318.8,435.3 L318.9,437.9 L318.3,440.4 L319.1,442.9 L317.9,445.4 L319.0,447.9 L319.2,450.4 L319.1,453.0 L317.9,455.5 L318.7,458.0 L318.5,460.5 L316.0,461.0 L313.4,461.2 L310.9,461.1 L308.4,460.2 L305.8,460.3 L303.3,460.2 L300.8,460.2 L298.2,461.1 L295.7,460.4 L293.2,460.7 L290.6,460.1 L288.1,460.1 L285.6,460.0 L283.0,461.1 L280.5,460.0 L278.0,459.9 L275.4,459.9 L272.9,461.1 L270.4,460.9 L267.8,461.0 L265.3,461.2 L262.8,460.0 L260.2,460.1 L257.7,460.3 L255.2,460.0 L252.7,460.3 L250.1,460.8 L247.6,461.1 L245.1,461.1 L242.5,460.1 L240.0,460.9 L237.5,460.8 L234.9,460.6 L232.4,461.2 L229.9,460.8 L227.3,460.8 L224.8,460.2 L222.3,460.7 L219.7,460.8 L217.2,459.9 L214.7,460.5 L212.1,460.0 L209.6,460.3 L207.1,461.2 L204.5,460.6 L202.0,460.5 L203.7,457.9 L204.9,455.4 L206.5,453.1 L207.4,450.5 L209.8,448.5 L212.6,447.0 L214.9,444.9 L217.7,444.0 L220.5,443.0 L218.9,440.7 L218.4,437.8 L216.7,435.6 L217.1,432.6 L218.6,430.0 L220.1,433.0 L222.3,435.6 L225.2,436.1 L227.9,437.4 L229.3,435.1 L231.3,433.4 L233.5,431.9 L236.1,431.0 L238.7,430.0 L240.9,428.1 L241.5,425.3 L243.4,423.2 L244.7,420.7 L243.4,418.2 L242.5,415.6 L240.9,413.3 L241.1,410.7 L242.2,408.3 L242.8,405.8 L243.2,402.7 L244.5,399.7 L244.7,396.5 L246.3,393.5 L248.4,390.9 L248.4,388.3 L246.8,386.0 L246.5,383.5 L243.9,382.6 L241.7,380.8 L239.1,379.8 L237.8,377.3 L236.1,375.0 L235.3,372.3 L237.9,371.2 L240.0,369.3 L242.8,368.6 L244.4,370.8 L246.3,372.5 L248.4,374.2 L250.6,376.4 L253.2,378.1 L255.8,379.8 L258.2,378.4 L260.7,377.1 L263.3,376.0 L263.2,372.3 L263.3,368.6 L261.8,366.4 L259.1,365.3 L258.1,362.7 L255.8,361.2 L258.2,358.7 L261.4,357.4 L261.6,354.8 L262.3,352.4 L263.3,350.0 L264.0,345.8 L261.8,344.1 L259.1,343.4 L256.7,342.1 L254.2,340.9 L256.3,339.1 L258.9,338.1 L260.7,336.0 L261.1,333.5 L262.3,331.2 L260.7,328.8 L259.1,326.3 L258.6,323.6 L258.3,320.8 L257.4,318.1 L254.3,316.2 L250.9,314.9 L248.7,312.9 L246.0,311.3 L243.8,309.3 L241.6,307.0 L239.5,304.7 L237.9,301.9 L235.9,300.0 L233.5,298.7 L231.3,297.1 L228.9,295.9 L225.9,296.4 L222.9,296.0 L219.9,295.9 L217.1,296.7 L214.6,298.0 L212.2,299.8 L209.4,300.4 L206.8,301.6 L204.0,302.2 L201.7,304.1 L199.0,304.9 L197.6,302.6 L197.0,300.0 L196.2,297.2 L196.0,294.4 L198.4,293.5 L200.7,292.6 L202.5,290.6 L205.0,289.9 L206.5,287.7 L208.4,285.9 L210.4,284.1 L212.4,282.4 L214.8,280.9 L217.0,279.0 L219.5,277.8 L221.8,276.1 L224.4,275.0 L227.4,274.1 L229.8,272.3 L232.0,270.0 L234.9,269.0 L237.6,268.6 L239.7,266.5 L242.3,265.8 L245.1,265.6 L247.5,264.4 L249.8,263.0 L252.4,263.1 L254.9,262.5 L257.4,262.0 L260.1,262.4 L262.6,262.0 L262.5,259.3 L263.0,256.7 L263.8,254.1 L262.5,251.8 L260.8,249.6 L260.1,247.0 L259.4,244.3 L257.8,242.1 L256.2,239.5 L254.2,237.2 L252.5,234.7 L250.6,232.4 L248.2,230.6 L245.5,229.2 L243.5,226.9 L241.0,225.2 Z" fill="#b3e3f9"/>
<path d="M152.9,221.9 L156.1,222.7 L155.3,227.4 L158.4,226.6 L160.0,221.9 L164.6,221.9 L163.9,225.8 L168.5,224.2 L172.4,222.7 L174.8,225.8 L173.2,228.9 L169.3,229.7 L170.9,232.8 L169.3,235.2 L174.0,237.5 L177.9,239.1 L177.1,243.0 L175.6,246.1 L180.2,244.5 L184.9,246.1 L183.4,249.2 L178.7,250.8 L174.0,252.3 L169.3,256.2 L163.1,257.0 L156.8,255.4 L152.2,250.8 L149.0,244.5 L146.7,237.5 L148.3,232.0 L151.4,226.6 Z" fill="#b3e3f9"/>
<path d="M163.1,245.3 L167.8,243.0 L172.4,243.7 L171.7,245.3 L167.0,248.4 Z" fill="#fff"/>
<path d="M261.8,307.8 L269.3,309.3 L279.7,315.3 L285.7,319.8 L288.7,325.8 L282.7,322.8 L273.7,319.8 L267.8,316.8 L263.3,312.3 Z M270.7,300.4 L276.7,297.4 L279.7,301.9 L273.7,303.4 Z M281.2,288.4 L287.2,287.7 L293.2,291.4 L282.7,292.1 Z M290.2,271.2 L294.7,272.0 L297.7,275.0 L291.7,274.2 Z M267.8,333.3 L273.7,334.8 L279.7,339.3 L273.7,340.7 L269.3,337.8 Z M278.5,329.5 L281.0,330.0 L280.5,332.0 L278.0,331.5 Z M308.5,271.0 L311.0,271.5 L310.5,273.5 L308.0,273.0 Z M262.5,296.5 L264.5,296.5 L264.0,298.5 L262.0,298.5 Z M276.0,327.0 L278.5,327.5 L278.0,329.5 L275.5,329.0 Z" fill="#fff"/>
<path d="M82.1,220.4 L81.6,223.4 L80.7,226.4 L79.9,229.3 L79.7,232.4 L82.9,234.0 L86.1,235.7 L89.3,237.3 L92.3,236.9 L95.3,236.0 L98.2,235.2 L101.3,234.9 L104.1,236.1 L107.0,237.2 L109.9,238.0 L112.8,238.9 L115.8,239.7 L118.7,241.2 L121.7,242.3 L124.7,243.4 L127.8,244.5 L128.6,247.7 L129.6,250.9 L130.2,254.1 L129.5,257.1 L129.4,260.2 L128.5,263.1 L127.8,266.1 L124.7,267.7 L121.7,269.6 L118.7,271.5 L115.8,273.4 L114.2,275.9 L112.3,278.2 L110.4,280.6 L108.6,283.0 L110.3,286.1 L112.3,289.0 L113.8,292.1 L115.8,295.0 L112.5,295.4 L109.4,296.9 L106.1,297.4 L102.7,297.2 L99.4,297.1 L96.0,297.5 L92.7,297.4 L89.3,297.4 L88.2,300.3 L88.6,303.5 L87.5,306.5 L86.9,309.5 L87.2,313.1 L86.6,316.7 L86.5,320.3 L86.9,323.9 L85.3,327.1 L84.1,330.5 L82.1,333.6 L80.8,336.8 L79.7,340.0 L76.0,341.0 L72.4,342.0 L69.8,344.3 L67.6,346.9 L65.2,349.3 L60.4,351.7 M127.8,244.5 L130.8,245.2 L133.7,246.0 L136.8,246.3 L139.8,246.9 L142.9,246.9 L146.0,247.0 M173.6,256.5 L176.6,258.5 L180.1,259.4 L183.2,261.3 L185.7,259.6 L187.9,257.6 L190.6,256.1 L192.8,254.1 L196.4,253.1 L200.1,253.4 L203.7,252.2 L207.3,251.7 L208.1,248.0 L209.7,244.5 L206.0,243.5 L202.4,242.1 L203.5,238.5 L204.8,234.9 L206.9,232.1 L209.6,230.0 L212.1,227.6 L215.3,225.1 L218.6,223.0 L221.7,220.4 M60.4,431.1 L63.4,430.4 L66.4,429.7 L69.3,429.0 L72.4,428.7 L75.5,430.5 L78.7,432.3 L82.1,433.5 L82.7,436.5 L83.6,439.5 L83.6,442.6 L84.5,445.6 L84.0,448.9 L83.6,452.3 L83.1,455.6 L82.1,458.8 M226.0,276.0 L229.6,275.5 L233.1,274.8 L236.5,273.9 L240.0,273.0 L243.0,272.4 L246.0,271.9 L248.9,270.9 L252.1,271.1 L255.0,270.0" fill="none" stroke="#999" stroke-width="0.7" stroke-linejoin="round" stroke-linecap="round" />
<path d="M228.0,277.0 L318.0,253.0" fill="none" stroke="#8a9aa0" stroke-width="0.7" stroke-linejoin="round" stroke-linecap="round" stroke-dasharray="24,8"/>
<circle cx="186.3" cy="232" r="7" fill="url(#glow)"/>
<circle cx="186.3" cy="232" r="1.3" fill="#fa5a1c"/>
<rect x="188.9" y="227.0" width="27.1" height="10" rx="5.0" fill="none" stroke="#f27a45" stroke-width="0.8"/>
<rect x="190.0" y="228.1" width="24.9" height="7.8" rx="3.9" fill="none" stroke="#f7a47e" stroke-opacity="0.35" stroke-width="0.40"/>
<circle cx="194.7" cy="232" r="4.1" fill="#fa5a1c"/>
<text x="194.7" y="234.0" font-size="5.6" fill="#fff" text-anchor="middle">6</text>
<text x="200.2" y="233.9" font-size="5.0" fill="#444">苏州市</text>
<circle cx="235.7" cy="236.5" r="7" fill="url(#glow)"/>
<circle cx="235.7" cy="236.5" r="1.3" fill="#fa5a1c"/>
<rect x="238.3" y="231.5" width="27.1" height="10" rx="5.0" fill="none" stroke="#f27a45" stroke-width="0.8"/>
<rect x="239.4" y="232.6" width="24.9" height="7.8" rx="3.9" fill="none" stroke="#f7a47e" stroke-opacity="0.35" stroke-width="0.40"/>
<circle cx="244.1" cy="236.5" r="4.1" fill="#fa5a1c"/>
<text x="244.1" y="238.5" font-size="5.6" fill="#fff" text-anchor="middle">1</text>
<text x="249.6" y="238.4" font-size="5.0" fill="#444">上海市</text>
<circle cx="194.5" cy="268.1" r="7" fill="url(#glow)"/>
<circle cx="194.5" cy="268.1" r="1.3" fill="#fa5a1c"/>
<rect x="196.6" y="263.1" width="27.1" height="10" rx="5.0" fill="none" stroke="#f27a45" stroke-width="0.8"/>
<rect x="197.7" y="264.2" width="24.9" height="7.8" rx="3.9" fill="none" stroke="#f7a47e" stroke-opacity="0.35" stroke-width="0.40"/>
<circle cx="202.4" cy="268.1" r="4.1" fill="#fa5a1c"/>
<text x="202.4" y="270.1" font-size="5.6" fill="#fff" text-anchor="middle">5</text>
<text x="207.9" y="270.0" font-size="5.0" fill="#444">嘉兴市</text>
<circle cx="184.9" cy="318.6" r="7" fill="url(#glow)"/>
<circle cx="184.9" cy="318.6" r="1.3" fill="#fa5a1c"/>
<rect x="187.7" y="313.6" width="27.1" height="10" rx="5.0" fill="none" stroke="#f27a45" stroke-width="0.8"/>
<rect x="188.8" y="314.7" width="24.9" height="7.8" rx="3.9" fill="none" stroke="#f7a47e" stroke-opacity="0.35" stroke-width="0.40"/>
<circle cx="193.5" cy="318.6" r="4.1" fill="#fa5a1c"/>
<text x="193.5" y="320.6" font-size="5.6" fill="#fff" text-anchor="middle">7</text>
<text x="199.0" y="320.5" font-size="5.0" fill="#444">绍兴市</text>
<circle cx="241" cy="326.8" r="7" fill="url(#glow)"/>
<circle cx="241" cy="326.8" r="1.3" fill="#fa5a1c"/>
<rect x="243.6" y="321.8" width="27.1" height="10" rx="5.0" fill="none" stroke="#f27a45" stroke-width="0.8"/>
<rect x="244.7" y="322.9" width="24.9" height="7.8" rx="3.9" fill="none" stroke="#f7a47e" stroke-opacity="0.35" stroke-width="0.40"/>
<circle cx="249.4" cy="326.8" r="4.1" fill="#fa5a1c"/>
<text x="249.4" y="328.8" font-size="5.6" fill="#fff" text-anchor="middle">2</text>
<text x="254.9" y="328.7" font-size="5.0" fill="#444">宁波市</text>
<circle cx="131.4" cy="377.4" r="7" fill="url(#glow)"/>
<circle cx="131.4" cy="377.4" r="1.3" fill="#fa5a1c"/>
<rect x="134.0" y="372.4" width="27.1" height="10" rx="5.0" fill="none" stroke="#f27a45" stroke-width="0.8"/>
<rect x="135.1" y="373.5" width="24.9" height="7.8" rx="3.9" fill="none" stroke="#f7a47e" stroke-opacity="0.35" stroke-width="0.40"/>
<circle cx="139.8" cy="377.4" r="4.1" fill="#fa5a1c"/>
<text x="139.8" y="379.4" font-size="5.6" fill="#fff" text-anchor="middle">4</text>
<text x="145.3" y="379.3" font-size="5.0" fill="#444">金华市</text>
<circle cx="233" cy="405.8" r="7" fill="url(#glow)"/>
<circle cx="233" cy="405.8" r="1.3" fill="#fa5a1c"/>
<rect x="235.6" y="400.8" width="27.1" height="10" rx="5.0" fill="none" stroke="#f27a45" stroke-width="0.8"/>
<rect x="236.7" y="401.9" width="24.9" height="7.8" rx="3.9" fill="none" stroke="#f7a47e" stroke-opacity="0.35" stroke-width="0.40"/>
<circle cx="241.4" cy="405.8" r="4.1" fill="#fa5a1c"/>
<text x="241.4" y="407.8" font-size="5.6" fill="#fff" text-anchor="middle">9</text>
<text x="246.9" y="407.7" font-size="5.0" fill="#444">台州市</text>
<circle cx="190.4" cy="448.4" r="7" fill="url(#glow)"/>
<circle cx="190.4" cy="448.4" r="1.3" fill="#fa5a1c"/>
<rect x="192.8" y="443.4" width="27.1" height="10" rx="5.0" fill="none" stroke="#f27a45" stroke-width="0.8"/>
<rect x="193.9" y="444.5" width="24.9" height="7.8" rx="3.9" fill="none" stroke="#f7a47e" stroke-opacity="0.35" stroke-width="0.40"/>
<circle cx="198.6" cy="448.4" r="4.1" fill="#fa5a1c"/>
<text x="198.6" y="450.4" font-size="5.6" fill="#fff" text-anchor="middle">8</text>
<text x="204.1" y="450.3" font-size="5.0" fill="#444">温州市</text>
</g>
<circle cx="326.2" cy="192.5" r="2.4" fill="#fa5a1c"/>
<rect x="331.7" y="182.5" width="55.2" height="20" rx="10.0" fill="none" stroke="#f27a45" stroke-width="1.3"/>
<rect x="333.5" y="184.3" width="51.6" height="16.4" rx="8.2" fill="none" stroke="#f7a47e" stroke-opacity="0.35" stroke-width="0.65"/>
<circle cx="343" cy="192.5" r="7.7" fill="#fa5a1c"/>
<text x="343" y="196.3" font-size="10.6" fill="#fff" text-anchor="middle">3</text>
<text x="353.0" y="196.1" font-size="9.4" fill="#444">北京市</text>
<circle cx="291.9" cy="484.1" r="2.4" fill="#fa5a1c"/>
<rect x="297.3" y="474.3" width="55.2" height="20" rx="10.0" fill="none" stroke="#f27a45" stroke-width="1.3"/>
<rect x="299.1" y="476.1" width="51.6" height="16.4" rx="8.2" fill="none" stroke="#f7a47e" stroke-opacity="0.35" stroke-width="0.65"/>
<circle cx="308.6" cy="484.3" r="7.7" fill="#fa5a1c"/>
<text x="308.6" y="488.1" font-size="10.6" fill="#fff" text-anchor="middle">10</text>
<text x="318.6" y="487.9" font-size="9.4" fill="#444">深圳市</text>
<circle cx="386.9" cy="343.9" r="2.4" fill="#fa5a1c"/>
<rect x="391.5" y="333.9" width="55.2" height="20" rx="10.0" fill="none" stroke="#f27a45" stroke-width="1.3"/>
<rect x="393.3" y="335.7" width="51.6" height="16.4" rx="8.2" fill="none" stroke="#f7a47e" stroke-opacity="0.35" stroke-width="0.65"/>
<circle cx="402.8" cy="343.9" r="7.7" fill="#fa5a1c"/>
<text x="402.8" y="347.7" font-size="10.6" fill="#fff" text-anchor="middle">6</text>
<text x="412.8" y="347.5" font-size="9.4" fill="#444">苏州市</text>
<circle cx="386.9" cy="343.9" r="2.4" fill="#fa5a1c"/>
<rect x="404.8" y="333.9" width="55.2" height="20" rx="10.0" fill="none" stroke="#f27a45" stroke-width="1.3"/>
<rect x="406.6" y="335.7" width="51.6" height="16.4" rx="8.2" fill="none" stroke="#f7a47e" stroke-opacity="0.35" stroke-width="0.65"/>
<circle cx="416.1" cy="343.9" r="7.7" fill="#fa5a1c"/>
<text x="416.1" y="347.7" font-size="10.6" fill="#fff" text-anchor="middle">1</text>
<text x="426.1" y="347.5" font-size="9.4" fill="#444">上海市</text>
<circle cx="388.9" cy="353.2" r="2.4" fill="#fa5a1c"/>
<rect x="393.2" y="343.2" width="55.2" height="20" rx="10.0" fill="none" stroke="#f27a45" stroke-width="1.3"/>
<rect x="395.0" y="345.0" width="51.6" height="16.4" rx="8.2" fill="none" stroke="#f7a47e" stroke-opacity="0.35" stroke-width="0.65"/>
<circle cx="404.5" cy="353.2" r="7.7" fill="#fa5a1c"/>
<text x="404.5" y="357.0" font-size="10.6" fill="#fff" text-anchor="middle">5</text>
<text x="414.5" y="356.8" font-size="9.4" fill="#444">嘉兴市</text>
<circle cx="386.2" cy="365.8" r="2.4" fill="#fa5a1c"/>
<rect x="391.5" y="354.8" width="55.2" height="20" rx="10.0" fill="none" stroke="#f27a45" stroke-width="1.3"/>
<rect x="393.3" y="356.6" width="51.6" height="16.4" rx="8.2" fill="none" stroke="#f7a47e" stroke-opacity="0.35" stroke-width="0.65"/>
<circle cx="402.8" cy="364.8" r="7.7" fill="#fa5a1c"/>
<text x="402.8" y="368.6" font-size="10.6" fill="#fff" text-anchor="middle">7</text>
<text x="412.8" y="368.4" font-size="9.4" fill="#444">绍兴市</text>
<circle cx="386.2" cy="365.8" r="2.4" fill="#fa5a1c"/>
<rect x="405.8" y="357.2" width="55.2" height="20" rx="10.0" fill="none" stroke="#f27a45" stroke-width="1.3"/>
<rect x="407.6" y="359.0" width="51.6" height="16.4" rx="8.2" fill="none" stroke="#f7a47e" stroke-opacity="0.35" stroke-width="0.65"/>
<circle cx="417.1" cy="367.2" r="7.7" fill="#fa5a1c"/>
<text x="417.1" y="371.0" font-size="10.6" fill="#fff" text-anchor="middle">2</text>
<text x="427.1" y="370.8" font-size="9.4" fill="#444">宁波市</text>
<circle cx="373" cy="380.5" r="2.4" fill="#fa5a1c"/>
<rect x="378.3" y="370.5" width="55.2" height="20" rx="10.0" fill="none" stroke="#f27a45" stroke-width="1.3"/>
<rect x="380.1" y="372.3" width="51.6" height="16.4" rx="8.2" fill="none" stroke="#f7a47e" stroke-opacity="0.35" stroke-width="0.65"/>
<circle cx="389.6" cy="380.5" r="7.7" fill="#fa5a1c"/>
<text x="389.6" y="384.3" font-size="10.6" fill="#fff" text-anchor="middle">4</text>
<text x="399.6" y="384.1" font-size="9.4" fill="#444">金华市</text>
<circle cx="397.9" cy="387.4" r="2.4" fill="#fa5a1c"/>
<rect x="403.8" y="377.4" width="55.2" height="20" rx="10.0" fill="none" stroke="#f27a45" stroke-width="1.3"/>
<rect x="405.6" y="379.2" width="51.6" height="16.4" rx="8.2" fill="none" stroke="#f7a47e" stroke-opacity="0.35" stroke-width="0.65"/>
<circle cx="415.1" cy="387.4" r="7.7" fill="#fa5a1c"/>
<text x="415.1" y="391.2" font-size="10.6" fill="#fff" text-anchor="middle">9</text>
<text x="425.1" y="391.0" font-size="9.4" fill="#444">台州市</text>
<circle cx="387.9" cy="398" r="2.4" fill="#fa5a1c"/>
<rect x="392.5" y="388.0" width="55.2" height="20" rx="10.0" fill="none" stroke="#f27a45" stroke-width="1.3"/>
<rect x="394.3" y="389.8" width="51.6" height="16.4" rx="8.2" fill="none" stroke="#f7a47e" stroke-opacity="0.35" stroke-width="0.65"/>
<circle cx="403.8" cy="398" r="7.7" fill="#fa5a1c"/>
<text x="403.8" y="401.8" font-size="10.6" fill="#fff" text-anchor="middle">8</text>
<text x="413.8" y="401.6" font-size="9.4" fill="#444">温州市</text>
<rect x="556.75" y="144.75" width="487.5" height="373" fill="#fff" stroke="#e6e6e6" stroke-width="1.5"/>
<line x1="644" y1="174" x2="644" y2="505.8" stroke="#999" stroke-width="1.2"/>
<rect x="644.5" y="186.30" width="348.0" height="10.7" fill="#0677e0"/>
<text x="633.5" y="195.4" font-size="11" fill="#333" text-anchor="end">上海市</text>
<text x="993.7" y="195.3" font-size="10.4" fill="#333">8.44%</text>
<rect x="644.5" y="219.23" width="218.7" height="10.7" fill="#0677e0"/>
<text x="633.5" y="228.3" font-size="11" fill="#333" text-anchor="end">宁波市</text>
<text x="864.4" y="228.2" font-size="10.4" fill="#333">5.30%</text>
<rect x="644.5" y="252.16" width="176.6" height="10.7" fill="#0677e0"/>
<text x="633.5" y="261.3" font-size="11" fill="#333" text-anchor="end">北京市</text>
<text x="822.3" y="261.2" font-size="10.4" fill="#333">4.28%</text>
<rect x="644.5" y="285.09" width="163.9" height="10.7" fill="#0677e0"/>
<text x="633.5" y="294.2" font-size="11" fill="#333" text-anchor="end">金华市</text>
<text x="809.6" y="294.1" font-size="10.4" fill="#333">3.97%</text>
<rect x="644.5" y="318.02" width="156.4" height="10.7" fill="#0677e0"/>
<text x="633.5" y="327.1" font-size="11" fill="#333" text-anchor="end">嘉兴市</text>
<text x="802.1" y="327.0" font-size="10.4" fill="#333">3.79%</text>
<rect x="644.5" y="350.95" width="144.5" height="10.7" fill="#0677e0"/>
<text x="633.5" y="360.1" font-size="11" fill="#333" text-anchor="end">苏州市</text>
<text x="790.2" y="360.0" font-size="10.4" fill="#333">3.50%</text>
<rect x="644.5" y="383.88" width="135.4" height="10.7" fill="#0677e0"/>
<text x="633.5" y="393.0" font-size="11" fill="#333" text-anchor="end">绍兴市</text>
<text x="781.1" y="392.9" font-size="10.4" fill="#333">3.28%</text>
<rect x="644.5" y="416.81" width="119.4" height="10.7" fill="#0677e0"/>
<text x="633.5" y="425.9" font-size="11" fill="#333" text-anchor="end">温州市</text>
<text x="765.1" y="425.8" font-size="10.4" fill="#333">2.89%</text>
<rect x="644.5" y="449.74" width="108.2" height="10.7" fill="#0677e0"/>
<text x="633.5" y="458.8" font-size="11" fill="#333" text-anchor="end">台州市</text>
<text x="753.9" y="458.7" font-size="10.4" fill="#333">2.62%</text>
<rect x="644.5" y="482.67" width="84.8" height="10.7" fill="#0677e0"/>
<text x="633.5" y="491.8" font-size="11" fill="#333" text-anchor="end">深圳市</text>
<text x="730.5" y="491.7" font-size="10.4" fill="#333">2.05%</text>
<text x="709" y="167" font-size="13.4" letter-spacing="0.67" fill="#222">西湖风景区外来客流来源<tspan letter-spacing="-0.3" dx="0.8">TOP10</tspan></text>
<text x="879" y="493.8" font-size="10.3" letter-spacing="0.25" fill="#666">注：杭州本市流入不计入在内</text>
<rect x="934" y="551.5" width="19" height="20" rx="4" fill="#fff" stroke="#eee" stroke-width="0.8"/>
<path d="M935,566 Q943.5,562 952,566 L952,568 Q952,571 949,571 L938,571 Q935,571 935,568 Z" fill="#d6eef8"/>
<path d="M943.5,553.5 a4.6,4.6 0 0 1 4.6,4.6 c0,3 -2.6,5 -4.6,9.5 c-2,-4.5 -4.6,-6.5 -4.6,-9.5 a4.6,4.6 0 0 1 4.6,-4.6 z" fill="#ee2d3e"/>
<rect x="941" y="567.5" width="5" height="3" fill="#2f6bd8"/>
<text x="943.5" y="559.5" font-size="3.6" fill="#fff" text-anchor="middle" font-weight="bold">du</text>
</svg>
<div id="foot1" class="abs">时间范围：2020年国庆假期</div>
<div id="foot2" class="abs">@2021.1 Baidu 《2020年度中国城市活力研究报告》19</div>
<div id="logo" class="abs">百度地图慧眼</div>
</body></html>
